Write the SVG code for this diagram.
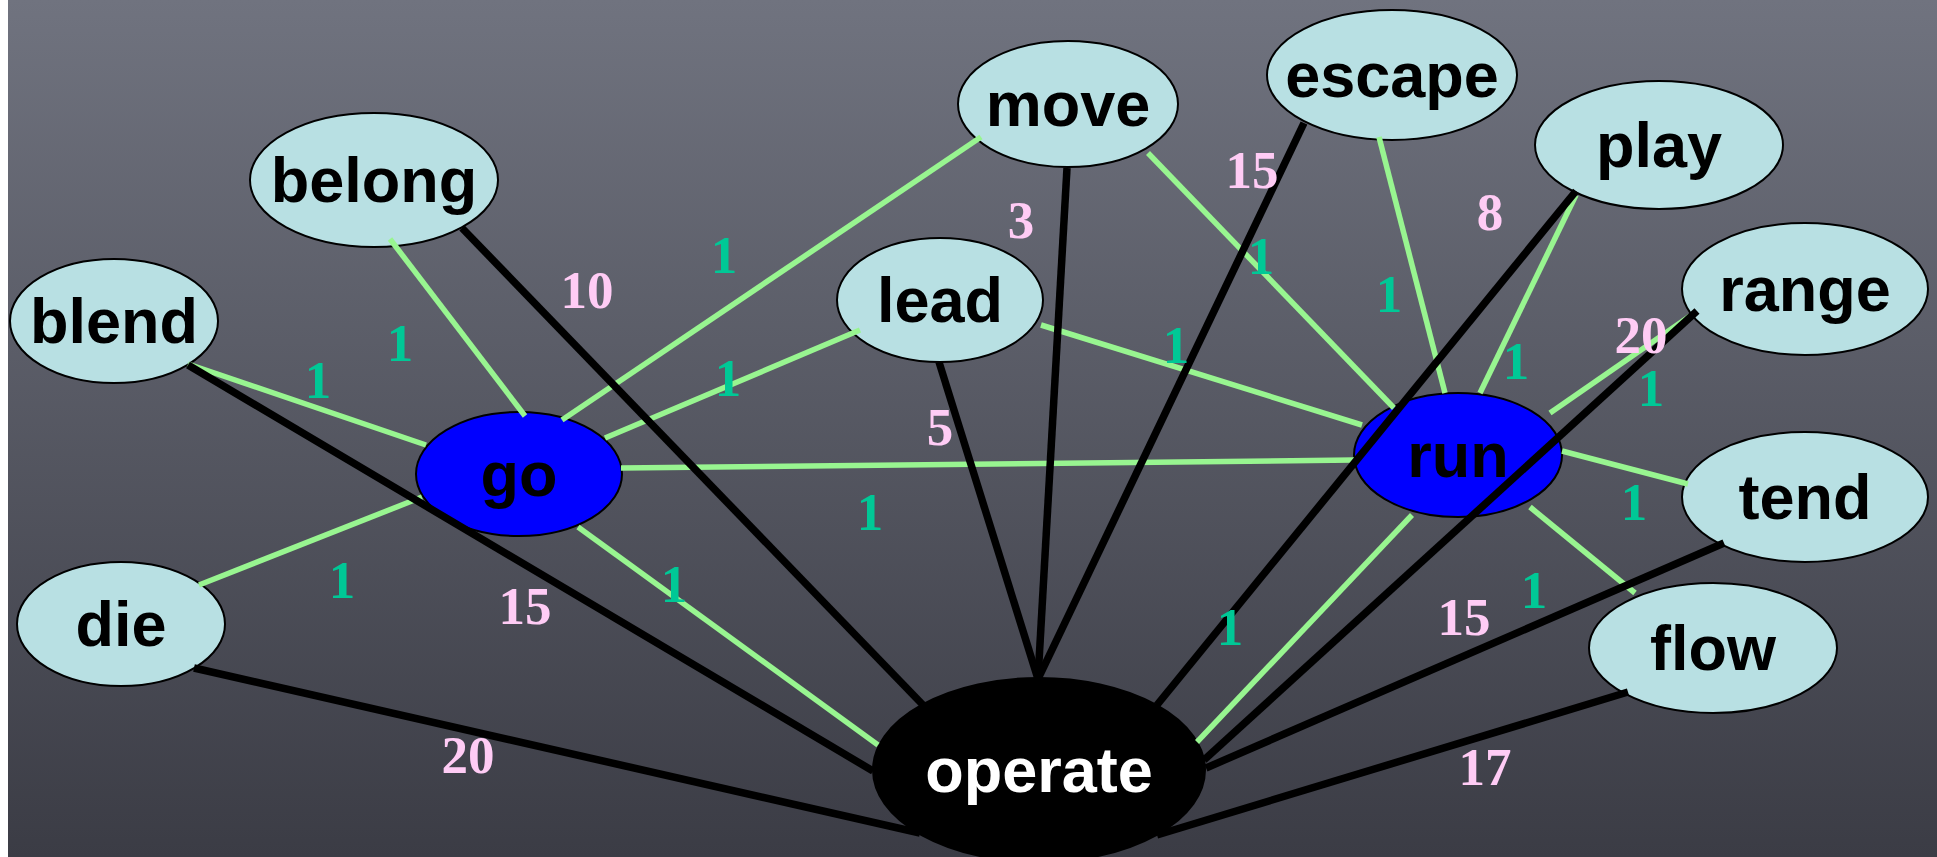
<svg xmlns="http://www.w3.org/2000/svg" width="1937" height="857" viewBox="0 0 1937 857">
<defs>
<linearGradient id="bg" x1="0" y1="0" x2="0" y2="1">
<stop offset="0" stop-color="#70737f"/>
<stop offset="1" stop-color="#3b3c45"/>
</linearGradient>
<style>
.n ellipse{fill:#b8e0e3;stroke:#000;stroke-width:2}
.n.hub ellipse{fill:#0000ff}
.n.root ellipse{fill:#000}
.n text{font-family:"Liberation Sans",Arial,sans-serif;font-weight:bold;font-size:63px;fill:#000;text-anchor:middle}
.n.root text{fill:#fff}
.g{stroke:#98f590;stroke-width:5.5;fill:none}
.k{stroke:#000;stroke-width:7.5;fill:none}
.lg,.lk{font-family:"Liberation Serif","Times New Roman",serif;font-weight:bold;font-size:53px;text-anchor:middle}
.lg{fill:#00c896}
.lk{fill:#ffccf5}
</style>
</defs>
<rect x="0" y="0" width="1937" height="857" fill="#ffffff"/>
<rect x="8" y="0" width="1929" height="857" fill="url(#bg)"/>

<g id="nodes">
<g id="node-belong" class="n"><ellipse cx="374" cy="180" rx="124" ry="67"/><text x="374" y="202">belong</text></g>
<g id="node-blend" class="n"><ellipse cx="114" cy="321" rx="104" ry="62"/><text x="114" y="343">blend</text></g>
<g id="node-move" class="n"><ellipse cx="1068" cy="104" rx="110" ry="63"/><text x="1068" y="126">move</text></g>
<g id="node-escape" class="n"><ellipse cx="1392" cy="75" rx="125" ry="65"/><text x="1392" y="97">escape</text></g>
<g id="node-play" class="n"><ellipse cx="1659" cy="145" rx="124" ry="64"/><text x="1659" y="167">play</text></g>
<g id="node-range" class="n"><ellipse cx="1805" cy="289" rx="123" ry="66"/><text x="1805" y="311">range</text></g>
<g id="node-lead" class="n"><ellipse cx="940" cy="300" rx="103" ry="62"/><text x="940" y="322">lead</text></g>
<g id="node-go" class="n hub"><ellipse cx="519" cy="474" rx="103" ry="62"/><text x="519" y="496">go</text></g>
<g id="node-run" class="n hub"><ellipse cx="1458" cy="455" rx="104" ry="62"/><text x="1458" y="477">run</text></g>
<g id="node-tend" class="n"><ellipse cx="1805" cy="497" rx="123" ry="65"/><text x="1805" y="519">tend</text></g>
<g id="node-flow" class="n"><ellipse cx="1713" cy="648" rx="124" ry="65"/><text x="1713" y="670">flow</text></g>
<g id="node-die" class="n"><ellipse cx="121" cy="624" rx="104" ry="62"/><text x="121" y="646">die</text></g>
<g id="node-operate" class="n root"><ellipse cx="1039" cy="770" rx="166" ry="92"/><text x="1039" y="792">operate</text></g>
</g>

<g id="connectors">
<line class="g" x1="188" y1="364" x2="426" y2="445"/>
<line class="g" x1="390" y1="239" x2="525" y2="416"/>
<line class="g" x1="981" y1="137" x2="562" y2="420"/>
<line class="g" x1="860" y1="330" x2="605" y2="438"/>
<line class="g" x1="621" y1="468" x2="1354" y2="460"/>
<line class="g" x1="199" y1="585" x2="422" y2="497"/>
<line class="g" x1="578" y1="527" x2="878" y2="745"/>
<line class="g" x1="1148" y1="153" x2="1394" y2="408"/>
<line class="g" x1="1041" y1="325" x2="1362" y2="425"/>
<line class="g" x1="1379" y1="137" x2="1445" y2="393"/>
<line class="g" x1="1576" y1="195" x2="1480" y2="393"/>
<line class="g" x1="1690" y1="316" x2="1550" y2="413"/>
<line class="g" x1="1562" y1="451" x2="1688" y2="484"/>
<line class="g" x1="1530" y1="507" x2="1635" y2="593"/>
<line class="g" x1="1412" y1="515" x2="1197" y2="742"/>

<line class="k" x1="462" y1="228" x2="923" y2="705"/>
<line class="k" x1="188" y1="365" x2="873" y2="771"/>
<line class="k" x1="194" y1="668" x2="920" y2="833"/>
<line class="k" x1="1067" y1="168" x2="1038" y2="679"/>
<line class="k" x1="939" y1="362" x2="1038" y2="679"/>
<line class="k" x1="1304" y1="123" x2="1038" y2="679"/>
<line class="k" x1="1576" y1="191" x2="1157" y2="705"/>
<line class="k" x1="1697" y1="311" x2="1204" y2="760"/>
<line class="k" x1="1724" y1="543" x2="1206" y2="768"/>
<line class="k" x1="1628" y1="692" x2="1157" y2="835"/>
</g>

<g id="edge-labels">
<text class="lg" x="318" y="398">1</text>
<text class="lg" x="400" y="361">1</text>
<text class="lg" x="724" y="273">1</text>
<text class="lg" x="728" y="396">1</text>
<text class="lg" x="870" y="530">1</text>
<text class="lg" x="342" y="598">1</text>
<text class="lg" x="674" y="602">1</text>
<text class="lg" x="1261" y="274">1</text>
<text class="lg" x="1176" y="363">1</text>
<text class="lg" x="1389" y="312">1</text>
<text class="lg" x="1516" y="379">1</text>
<text class="lg" x="1651" y="406">1</text>
<text class="lg" x="1634" y="520">1</text>
<text class="lg" x="1534" y="608">1</text>
<text class="lg" x="1230" y="645">1</text>

<text class="lk" x="587" y="308">10</text>
<text class="lk" x="1021" y="238">3</text>
<text class="lk" x="1252" y="188">15</text>
<text class="lk" x="940" y="445">5</text>
<text class="lk" x="1490" y="230">8</text>
<text class="lk" x="1641" y="353">20</text>
<text class="lk" x="525" y="624">15</text>
<text class="lk" x="468" y="773">20</text>
<text class="lk" x="1464" y="635">15</text>
<text class="lk" x="1485" y="785">17</text>
</g>
</svg>
